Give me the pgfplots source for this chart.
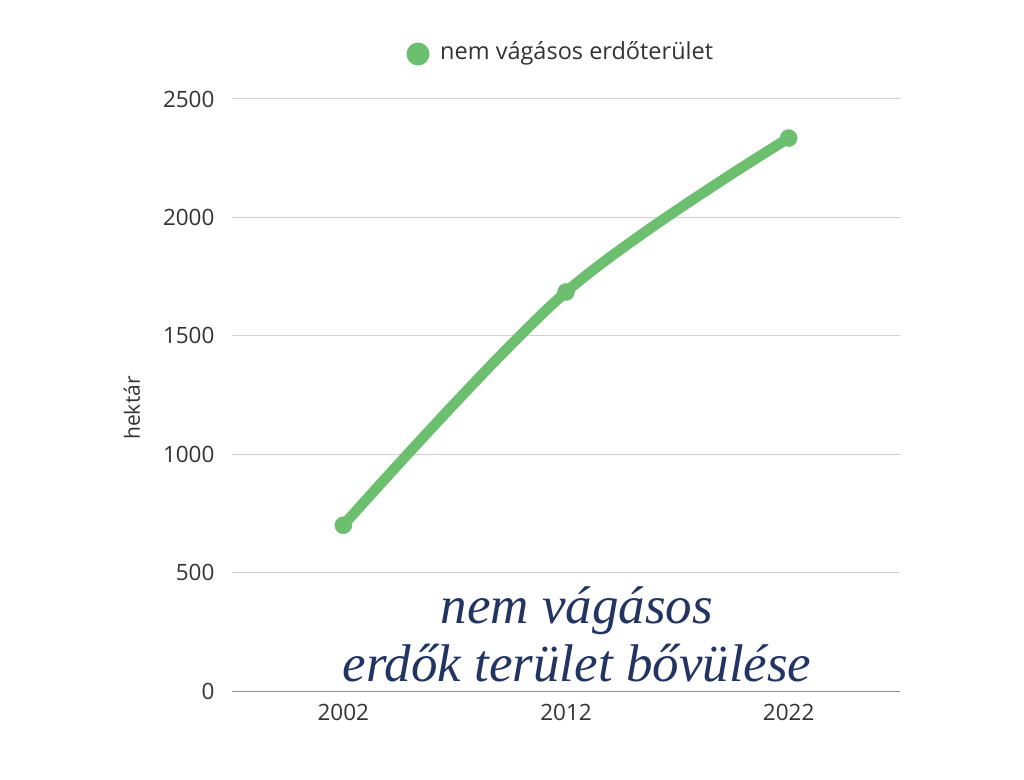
\documentclass[border=0pt]{standalone}
\usepackage{pgfplots}
\pgfplotsset{compat=1.18}
\usepackage{fontspec}
\setmainfont{Open Sans}
\newfontfamily\titlefont{Liberation Serif}
\definecolor{lgreen}{HTML}{6CBF6E}
\definecolor{navy}{HTML}{223462}
\definecolor{gridc}{HTML}{D0D0D0}
\definecolor{axisc}{HTML}{8C8C8C}
\definecolor{txt}{HTML}{333333}
\begin{document}
\begin{tikzpicture}[x=1pt,y=1pt]
\path[use as bounding box] (0,0) rectangle (1024,779);
\begin{axis}[
  at={(232pt,88pt)}, anchor=south west,
  scale only axis, width=668pt, height=592pt,
  xmin=-0.5, xmax=2.5, ymin=0, ymax=2500,
  xtick={0,1,2}, xticklabels={2002,2012,2022},
  ytick={0,500,1000,1500,2000,2500},
  axis x line*=bottom, axis y line*=left,
  x axis line style={axisc, line width=1pt, -},
  y axis line style={draw=none},
  ymajorgrids, grid style={gridc, line width=1pt},
  major tick length=0pt,
  tick label style={font=\fontsize{22.5}{26}\selectfont, text=txt},
  /pgf/number format/assume math mode=true,
  /pgf/number format/set thousands separator={},
  yticklabel style={xshift=-14pt},
  xticklabel style={yshift=-10pt},
  clip=false,
]
\addplot[lgreen, line width=10.5pt, smooth, tension=0.55, mark=*, mark size=8.5pt, mark options={fill=lgreen, line width=0.5pt}]
coordinates {(0,700) (1,1685) (2,2335)};
\end{axis}
\node[anchor=center, rotate=90, text=txt, font=\fontsize{21}{25}\selectfont] at (132,371) {hektár};
\fill[lgreen] (418,725) circle (11.5);
\node[anchor=west, text=txt, font=\fontsize{23.5}{28}\selectfont, inner sep=0pt] at (440,726) {nem vágásos erdőterület};
\node[align=center, text=navy, font=\titlefont\itshape\fontsize{53}{58}\selectfont] at (577,145) {nem vágásos\\erdők terület bővülése};
\end{tikzpicture}
\end{document}
